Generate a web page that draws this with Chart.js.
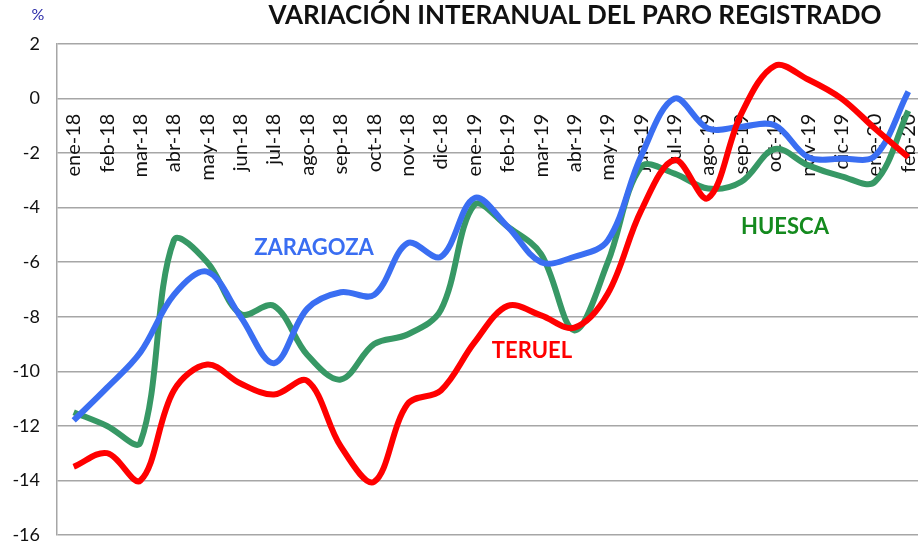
<!DOCTYPE html>
<html>
<head>
<meta charset="utf-8">
<script src="https://cdn.jsdelivr.net/npm/chart.js@4"></script>
<style>
  html, body { margin: 0; padding: 0; background: #fff; overflow: hidden; }
  #wrap { width: 925px; height: 547px; position: relative; }
</style>
</head>
<body>
<div id="wrap"><canvas id="lineChart"></canvas></div>
<script>
// months shown on the x axis
var meses = ['ene-18', 'feb-18', 'mar-18', 'abr-18', 'may-18', 'jun-18', 'jul-18', 'ago-18', 'sep-18', 'oct-18', 'nov-18', 'dic-18',
             'ene-19', 'feb-19', 'mar-19', 'abr-19', 'may-19', 'jun-19', 'jul-19', 'ago-19', 'sep-19', 'oct-19', 'nov-19', 'dic-19',
             'ene-20', 'feb-20'];

// variacion interanual (%) por provincia
var zaragoza = [-11.8, -10.6, -9.3, -7.2, -6.35, -8.0, -9.7, -7.7, -7.1, -7.2, -5.3, -5.8,
                -3.65, -4.7, -6.0, -5.8, -5.2, -2.1, 0.0, -1.1, -1.03, -0.98, -2.15, -2.2,
                -2.1, 0.25];
var teruel = [-13.5, -13.0, -14.0, -10.7, -9.75, -10.45, -10.85, -10.35, -12.75, -14.05, -11.2, -10.7,
              -8.95, -7.6, -7.95, -8.4, -7.15, -4.1, -2.25, -3.65, -0.55, 1.2, 0.7, 0.0,
              -1.1, -2.15];
var huesca = [-11.5, -12.0, -12.6, -5.2, -6.0, -7.9, -7.6, -9.4, -10.3, -9.0, -8.65, -7.75,
              -3.9, -4.7, -5.7, -8.5, -6.0, -2.5, -2.75, -3.3, -3.05, -1.85, -2.45, -2.85,
              -3.05, -0.45];

var yTicks = [2, 0, -2, -4, -6, -8, -10, -12, -14, -16];

var titulo = 'VARIACIÓN INTERANUAL DEL PARO REGISTRADO';

// texts drawn on top of the chart
var textos = {
    id: 'textos',
    afterDraw: function(chart) {
        var ctx = chart.ctx;
        ctx.save();
        ctx.textAlign = 'center';
        ctx.textBaseline = 'middle';

        ctx.fillStyle = '#2b2ba8';
        ctx.font = '16px Lato';
        ctx.fillText('%', 38, 15);

        ctx.fillStyle = '#111';
        ctx.font = 'bold 26px Lato';
        ctx.fillText(titulo, 575, 16);

        ctx.font = 'bold 22px Lato';
        ctx.fillStyle = '#3a6ef2';
        ctx.fillText('ZARAGOZA', 314, 248);
        ctx.fillStyle = '#ff0000';
        ctx.fillText('TERUEL', 532, 351);
        ctx.fillStyle = '#148a1e';
        ctx.fillText('HUESCA', 785, 227);
        ctx.restore();
    }
};

var line = document.getElementById('lineChart').getContext('2d');

var chart = new Chart(line, {
    type: 'line',
    data: {
        labels: meses,
        datasets: [{
            label: 'TERUEL',
            borderColor: '#ff0000',
            data: teruel
        }, {
            label: 'ZARAGOZA',
            borderColor: '#3a6ef2',
            data: zaragoza
        }, {
            label: 'HUESCA',
            borderColor: '#379865',
            data: huesca
        }]
    },
    options: {
        responsive: true,
        maintainAspectRatio: false,
        animation: false,
        layout: { padding: { top: 44, bottom: 12, left: 0, right: 0 } },
        elements: {
            line: { borderWidth: 6, tension: 0.35, borderCapStyle: 'butt', borderJoinStyle: 'round', fill: false },
            point: { radius: 0, hoverRadius: 0 }
        },
        plugins: {
            legend: { display: false },
            tooltip: { enabled: false }
        },
        scales: {
            x: {
                position: { y: 0 },
                offset: true,
                // the axis sits inside the plot, it takes no room of its own
                afterFit: function(scale) {
                    scale.height = 0;
                    scale.paddingLeft = 0;
                    scale.paddingRight = 0;
                },
                grid: { display: false, drawTicks: false },
                border: { display: false },
                ticks: {
                    minRotation: 90,
                    maxRotation: 90,
                    autoSkip: false,
                    padding: 15,
                    color: '#111',
                    font: { family: 'Lato', size: 20 }
                }
            },
            y: {
                min: -16,
                max: 2,
                afterFit: function(scale) {
                    scale.width = 57;
                    scale.paddingTop = 0;
                    scale.paddingBottom = 0;
                },
                afterBuildTicks: function(scale) {
                    scale.ticks = yTicks.map(function(v) { return { value: v }; });
                },
                grid: { color: '#a6a6a6', lineWidth: 1.5, drawTicks: false },
                border: { color: '#a6a6a6', width: 1.5 },
                ticks: {
                    padding: 17,
                    color: '#111',
                    font: { family: 'Lato', size: 18 }
                }
            }
        }
    },
    plugins: [textos]
});
</script>
</body>
</html>
